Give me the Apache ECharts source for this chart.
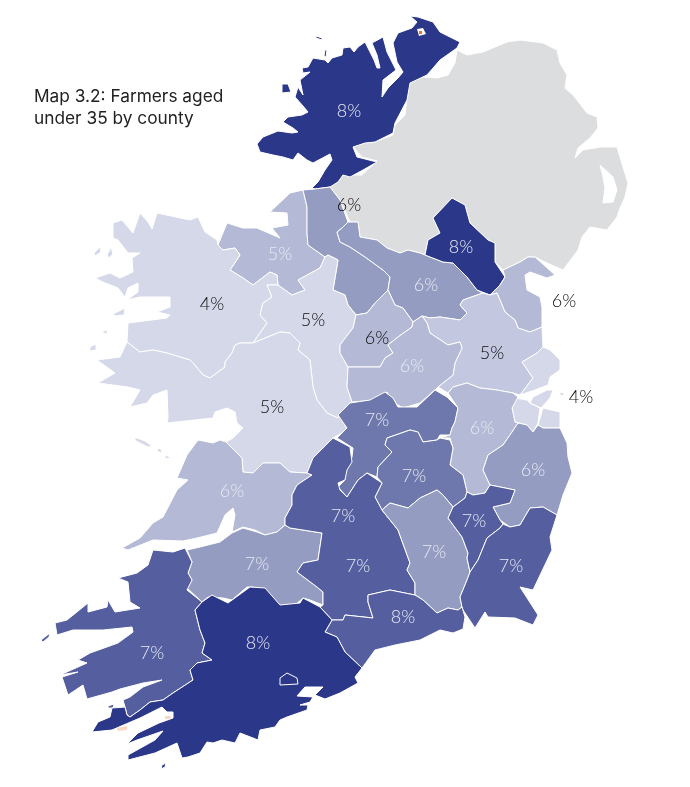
<!DOCTYPE html>
<html>
<head>
<meta charset="utf-8">
<style>html,body{margin:0;background:#fff}#main{width:690px;height:787px}</style>
<script src="https://cdn.jsdelivr.net/npm/echarts@6/dist/echarts.min.js"></script>
</head>
<body>
<div id="main"></div>
<script>
var counties = ['Donegal','Sligo','Leitrim','Monaghan','Cavan','Louth','Mayo','Roscommon','Longford','Westmeath','Meath','Galway','Dublin','Offaly','Kildare','Laois','Wicklow','Clare','Carlow','Tipperary','South Tipperary','Kilkenny','Wexford','Limerick','Kerry','Cork','Waterford'];
var values = [8,5,6,8,6,6,4,5,6,6,5,5,4,7,6,7,6,6,7,7,7,7,7,7,7,8,8];

// fill by county, the map doesn't follow the rounded label exactly
var shades = {
    navy: ['Donegal','Monaghan','Cork'],
    dark: ['Carlow','Tipperary','South Tipperary','Wexford','Kerry','Waterford'],
    slate: ['Offaly','Laois'],
    mid: ['Leitrim','Cavan','Wicklow','Kilkenny','Limerick'],
    soft: ['Sligo','Louth','Longford','Westmeath','Kildare','Clare'],
    meath: ['Meath'],
    pale: ['Mayo','Roscommon','Galway','Dublin']
};
var shadeColors = {navy:'#2b3788',dark:'#555f9f',slate:'#6f78ac',mid:'#949cc2',soft:'#b4b9d6',meath:'#c3c7df',pale:'#d5d8e9'};
var darkLabels = ['Leitrim','Louth','Mayo','Roscommon','Longford','Meath','Galway','Dublin'];
// little specks on the source map
var specks = {'Bere Island':'#fbd8c4','Roancarrig':'#fbd8c4','Malin pocket':'#ffffff','Malin dot':'#f0702a'};

// outlines, x,y pairs in the picture's own pixels
var outlines = {
    'Northern Ireland': [[[330,187,338,182,343,175,362,175,377,161,362,157,353,147,363,138,372,143,393,135,395,125,405,115,407,98,410,78,423,77,437,78,448,75,455,63,457,50,467,55,483,52,507,42,520,40,543,43,557,50,560,63,567,75,565,88,573,95,587,113,597,117,598,128,590,138,578,148,575,158,583,150,600,147,617,147,623,167,628,183,625,197,620,208,617,217,607,230,590,227,582,237,578,250,563,270,547,263,535,257,528,257,520,262,503,270,495,262,495,243,488,240,470,223,465,205,452,198,433,218,440,233,428,240,425,255,420,253,408,250,400,253,387,248,377,240,360,237,358,222,350,222,340,200],
        [600,165,603,177,605,188,603,203,613,202,617,190,613,177]]],
    'Donegal': [[[312,188,318,182,325,170,332,160,330,154,313,163,307,160,298,153,293,160,283,157,273,155,260,152,257,144,263,137,278,131,292,133,298,132,293,128,283,122,288,117,302,115,308,112,303,106,295,97,298,87,303,95,300,80,310,72,303,73,302,68,308,67,313,58,325,60,328,63,332,58,342,55,343,48,350,47,354,52,358,47,365,42,369,50,374,60,377,68,380,68,377,55,372,43,383,37,387,52,392,62,396,70,383,80,382,97,388,88,398,78,403,72,397,62,393,43,398,33,412,28,417,22,410,16,418,17,433,22,440,32,460,42,457,48,440,60,427,75,410,83,407,100,395,123,393,133,375,142,365,143,353,147,357,157,377,162,363,170,350,177,343,175,338,182,330,187,315,189]],
        [[282,84,288,84,291,92,282,93]], [[316,36,322,38,322,40,316,38]], [[325,50,327,50,326,57,324,56]]],
    'Sligo': [[[303,190,290,193,270,212,287,213,288,225,272,228,280,238,257,228,243,228,227,223,218,245,223,250,235,248,240,255,230,270,243,278,253,285,270,272,277,275,278,285,292,295,305,290,298,280,320,268,325,257,308,245,307,233,307,207]]],
    'Leitrim': [[[303,190,315,189,330,187,340,200,348,222,342,228,337,232,340,242,350,247,365,257,383,270,390,277,388,290,375,303,367,313,356,315,348,305,345,295,333,290,338,260,328,255,325,257,308,245,307,233,307,207]]],
    'Cavan': [[[348,222,358,222,360,237,377,240,387,248,400,253,408,250,420,253,425,255,443,262,453,263,467,277,477,290,483,293,463,300,460,305,467,313,460,320,440,317,430,318,422,316,413,322,403,308,395,305,388,290,390,277,383,270,365,257,350,247,340,242,337,232,342,228]]],
    'Monaghan': [[[452,198,465,205,470,223,488,240,495,243,495,262,505,277,500,285,490,295,477,290,467,277,453,263,443,262,425,255,428,240,440,233,433,218]]],
    'Louth': [[[503,270,520,262,528,257,535,257,555,275,547,278,530,272,525,275,527,290,540,297,542,307,542,327,530,332,518,328,515,320,505,312,497,293,490,295,500,285,505,277]]],
    'Meath': [[[490,295,497,293,505,312,515,320,518,328,530,332,542,327,543,347,537,353,522,362,533,378,520,395,513,393,497,390,480,388,467,383,453,387,448,393,438,387,453,375,455,363,462,348,460,342,448,345,430,333,427,323,422,316,430,318,440,317,460,320,467,313,460,305,463,300,483,293]]],
    'Dublin': [[[543,347,550,350,560,360,560,370,550,377,548,385,535,390,520,395,533,378,522,362,537,353]],
        [[533,397,547,390,553,390,550,398,541,408,530,403]],
        [[515,398,527,400,530,403,540,408,538,423,533,432,527,425,515,422,512,408]],
        [[543,408,560,412,560,428,543,428,538,425]],
        [[560,392,564,393,563,396,560,395]]],
    'Mayo': [[[253,343,240,343,235,345,232,353,225,362,225,367,210,378,203,375,193,363,190,360,167,353,153,350,140,352,127,342,128,323,167,318,170,315,157,312,170,307,170,297,140,297,127,300,138,292,138,283,128,288,125,297,118,288,103,282,95,278,110,273,120,278,133,272,132,258,140,253,128,253,118,240,113,238,113,223,122,220,133,233,140,213,148,222,152,229,157,213,190,220,198,217,205,232,217,240,218,245,223,250,235,248,240,255,230,270,243,278,253,285,270,272,277,275,278,285,267,285,272,297,263,303,260,315,267,323]],
        [[94,253,100,247,101,252,95,256]], [[107,255,111,247,113,254,109,258]], [[113,314,125,308,124,315,115,316]], [[102,333,107,329,107,334]], [[90,347,96,344,96,350,90,351]]],
    'Roscommon': [[[328,255,338,260,333,290,345,295,348,305,356,315,353,328,340,345,340,353,348,367,347,387,352,402,350,403,340,413,338,418,327,413,317,400,313,387,310,360,298,350,300,343,290,333,280,332,253,343,267,323,260,315,263,303,272,297,267,285,278,285,292,295,305,290,298,280,320,268,325,257]]],
    'Longford': [[[388,290,395,305,403,308,413,322,412,327,398,337,388,345,393,353,385,358,380,367,348,367,340,353,340,345,353,328,356,315,367,313,375,303]]],
    'Westmeath': [[[413,322,422,316,427,323,430,333,448,345,460,342,462,348,455,363,453,375,438,387,436,389,420,403,403,408,393,402,387,392,377,400,352,402,347,387,348,367,380,367,385,358,393,353,388,345,398,337,412,327]]],
    'Galway': [[[127,342,140,352,153,350,167,353,190,360,193,363,203,375,210,378,225,367,225,362,232,353,235,345,240,343,253,343,280,332,290,333,300,343,298,350,310,360,313,387,317,400,327,413,338,418,340,413,347,430,333,438,313,458,307,473,290,472,280,463,263,463,253,473,243,472,242,458,226,442,233,438,243,428,237,423,235,412,227,408,215,412,213,418,167,423,168,417,167,390,153,395,147,403,130,407,140,390,128,387,98,383,115,373,97,360,120,357]],
        [[134,437,145,441,152,446,148,447,136,441]], [[158,448,162,450,161,453,157,451]], [[165,455,170,457,168,459,165,458]]],
    'Offaly': [[[340,413,350,403,370,400,385,392,393,398,398,407,417,407,435,390,447,397,458,408,455,422,452,428,450,435,440,435,437,440,423,442,418,432,410,430,387,438,385,445,392,452,378,467,377,477,367,473,358,480,347,497,338,487,345,480,345,470,352,457,353,448,337,438,347,428,338,415]]],
    'Kildare': [[[448,393,453,387,467,383,480,388,497,390,513,393,518,397,512,408,515,422,518,423,512,432,503,445,488,455,483,470,490,485,485,493,473,495,467,492,463,475,450,465,453,448,450,438,440,438,450,435,452,428,455,422,458,408]]],
    'Laois': [[[387,438,410,430,418,432,423,442,437,440,440,438,450,440,453,448,450,465,463,475,467,492,465,498,453,507,443,495,437,490,420,498,408,508,390,503,382,510,375,497,382,483,377,477,378,467,392,452,385,445]]],
    'Wicklow': [[[538,425,543,428,560,428,567,443,568,457,572,473,563,495,557,515,543,507,530,508,520,525,510,527,500,520,493,507,510,503,515,490,490,485,483,470,488,455,503,445,512,432,518,423,527,425,533,432]]],
    'Clare': [[[226,442,242,458,243,472,253,473,263,463,280,463,290,472,307,473,312,475,297,485,292,495,292,505,285,518,285,525,277,532,265,535,255,530,243,527,232,532,235,515,233,508,225,515,217,533,197,538,183,541,153,540,128,550,122,548,140,538,153,523,163,517,177,490,188,480,177,478,187,455,198,440,213,443,220,440]]],
    'Limerick': [[[187,550,200,547,220,542,232,533,243,528,257,532,265,535,277,532,285,525,290,528,322,533,318,560,303,563,297,572,317,587,323,592,323,605,310,600,303,598,293,607,280,607,267,593,253,587,247,587,232,600,223,598,208,597,202,602,187,588,192,580,188,573,192,562]]],
    'Tipperary': [[[333,438,350,447,352,462,347,470,345,480,338,483,340,490,347,497,358,480,367,473,382,483,375,497,382,510,398,530,410,563,407,570,415,583,415,595,390,590,368,595,368,602,373,618,345,615,343,620,332,620,320,607,323,605,323,592,317,587,297,572,303,563,318,560,322,533,290,528,285,525,285,518,292,505,292,495,297,485,312,475,307,473,313,458]]],
    'South Tipperary': [[[350,545,375,545,375,585,350,585]]],
    'Kilkenny': [[[382,510,390,503,408,508,420,498,437,490,443,495,453,507,448,518,462,537,468,553,467,558,470,572,467,580,460,597,462,607,458,610,448,608,437,613,423,600,415,595,415,583,407,570,410,563,398,530]]],
    'Carlow': [[[467,492,473,495,485,493,490,485,515,490,510,503,493,507,500,520,503,524,500,528,487,538,478,560,470,572,467,558,468,553,462,537,448,518,453,507,465,498]]],
    'Wexford': [[[557,515,550,537,552,550,533,590,520,587,538,615,533,625,515,618,488,617,485,612,475,628,463,610,462,607,460,597,467,580,470,572,478,560,487,538,500,528,503,524,510,527,520,525,530,508,543,507]]],
    'Waterford': [[[332,620,343,620,345,615,373,618,368,602,368,595,390,590,415,595,423,600,437,613,448,608,458,610,462,607,465,617,463,629,453,633,440,630,420,640,395,645,375,650,362,668,345,652,337,637,325,632]]],
    'Kerry': [[[153,550,173,552,185,548,192,562,188,573,192,580,187,590,202,602,195,610,200,630,205,643,202,653,212,660,197,663,190,670,193,680,173,693,163,700,150,702,140,710,130,717,127,715,125,707,123,700,130,697,143,687,162,680,143,683,120,689,112,692,87,699,83,685,68,695,62,677,78,672,60,675,87,663,78,660,90,653,118,643,133,632,132,627,103,630,73,630,57,635,55,623,67,620,88,603,88,612,107,607,108,600,115,612,140,608,130,602,128,582,118,578,137,573,148,565]],
        [[41,640,50,633,49,637,43,642]], [[108,706,114,704,113,708,108,708]]],
    'Cork': [[[202,602,212,595,228,603,250,587,265,588,280,605,300,603,303,598,320,607,332,620,325,632,337,637,345,652,362,668,355,677,358,683,340,693,325,699,315,695,323,687,305,687,297,696,313,697,310,702,300,705,308,705,307,710,287,717,280,720,275,727,260,730,258,740,253,738,240,733,235,743,222,740,213,743,207,742,200,753,188,757,182,758,177,743,155,753,128,760,128,755,155,740,163,731,137,740,127,744,138,733,159,723,173,718,173,712,167,712,162,707,140,718,112,730,92,732,98,722,110,717,112,708,125,707,127,715,130,717,140,710,150,702,163,700,173,693,193,680,190,670,197,663,212,660,202,653,205,643,200,630,195,610]],
        [[280,678,287,673,297,678,298,684,280,685]], [[162,765,166,763,165,767,161,769]]],
    'Bere Island': [[[117,728,127,726,127,730,118,731]]],
    'Roancarrig': [[[165,716,171,716,170,719,165,719]]],
    'Malin pocket': [[[417,29,423,28,426,34,419,36]]],
    'Malin dot': [[[419,31,422,31,422,34,419,34]]]
};
var labelAt = {Donegal:[349,111],Sligo:[280,254],Leitrim:[349,205],Monaghan:[461,247],Cavan:[426,285],Louth:[564,301],Mayo:[212,304],Roscommon:[313,320],Longford:[377,338],Westmeath:[412,366],Meath:[492,353],Galway:[272,407],Dublin:[581,397],Offaly:[377,420],Kildare:[482,428],Laois:[414,476],Wicklow:[533,470],Clare:[232,491],Carlow:[474,521],Tipperary:[343,516],'South Tipperary':[358,566],Kilkenny:[434,552],Wexford:[511,566],Limerick:[257,564],Kerry:[152,653],Cork:[258,643],Waterford:[403,617]};

function toRing(flat){
    var ring = [];
    for (var i = 0; i < flat.length; i += 2) ring.push([flat[i], flat[i + 1]]);
    ring.push(ring[0]);
    return ring;
}
function shadeOf(name){
    for (var key in shades) {
        if (shades[key].indexOf(name) >= 0) return shadeColors[key];
    }
}

var features = Object.keys(outlines).map(function(name){
    var parts = outlines[name];
    var polys = parts.map(function(p){ return p.map(toRing); });
    return {
        type: 'Feature',
        properties: {name: name, cp: labelAt[name]},
        geometry: {type: 'MultiPolygon', coordinates: polys}
    };
});
echarts.registerMap('ireland', {type: 'FeatureCollection', features: features});

var mapData = counties.map(function(name, i){
    return {
        name: name,
        value: values[i],
        itemStyle: {areaColor: shadeOf(name), borderWidth: name === 'South Tipperary' ? 0 : 1},
        label: {show: true, color: darkLabels.indexOf(name) >= 0 ? '#0d0d0d' : '#e6e9f3'}
    };
});
Object.keys(specks).forEach(function(name){
    mapData.push({name: name, itemStyle: {areaColor: specks[name], borderWidth: 0}});
});

var myCharts = echarts.init(document.getElementById('main'));
myCharts.setOption({
    animation: false,
    title: {
        text: 'Map 3.2: Farmers aged\nunder 35 by county',
        left: 29,
        top: 81,
        textStyle: {fontFamily: 'Inter', fontWeight: 400, fontSize: 17.3, lineHeight: 22, color: '#222'}
    },
    series: [{
        type: 'map',
        map: 'ireland',
        projection: {project: function(p){ return p; }, unproject: function(p){ return p; }},
        boundingCoords: [[0, 0], [690, 787]],
        left: 0,
        top: 0,
        width: 690,
        height: 787,
        roam: false,
        silent: true,
        selectedMode: false,
        itemStyle: {areaColor: '#dcddde', borderColor: '#fff', borderWidth: 1},
        label: {show: false, fontFamily: 'Lato', fontWeight: 300, fontSize: 18, formatter: '{c}%'},
        data: mapData
    }]
});
</script>
</body>
</html>
